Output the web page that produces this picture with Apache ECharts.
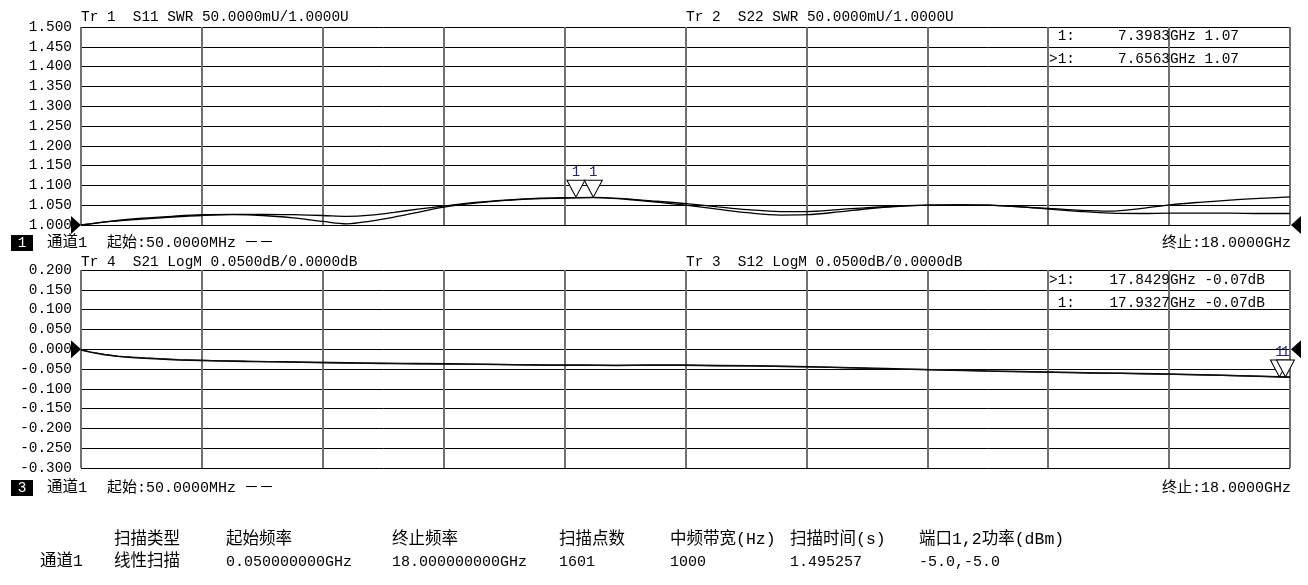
<!DOCTYPE html>
<html><head><meta charset="utf-8">
<script src="https://cdn.jsdelivr.net/npm/echarts@6/dist/echarts.min.js"></script>
<style>html,body{margin:0;padding:0;background:#fff}#c{width:1308px;height:585px}</style>
</head><body><div id="c"></div>
<script>
// ---- data (GHz / SWR / dB) ----
const freqTop = [0.05,0.5,0.96,1.4,1.85,2.3,2.75,3.2,3.64,4.0,4.35,4.7,5.05,5.44,5.9,6.35,6.8,7.24,7.65,8.14,8.6,9.03,9.5,9.94,10.43,10.83,11.3,11.73,12.2,12.63,13.1,13.53,14.0,14.42,14.9,15.33,15.8,16.22,16.7,17.11,17.55,18.0];
const s11Swr = [1.000,1.009,1.015,1.020,1.024,1.026,1.024,1.018,1.009,1.003,1.010,1.020,1.032,1.045,1.055,1.062,1.066,1.068,1.069,1.065,1.058,1.050,1.040,1.031,1.025,1.026,1.033,1.041,1.047,1.050,1.051,1.050,1.046,1.040,1.034,1.030,1.029,1.030,1.030,1.030,1.029,1.029];
const s22Swr = [1.000,1.010,1.017,1.022,1.026,1.027,1.027,1.026,1.024,1.022,1.025,1.032,1.040,1.048,1.057,1.063,1.067,1.069,1.070,1.066,1.060,1.054,1.046,1.039,1.034,1.034,1.039,1.044,1.048,1.050,1.051,1.050,1.046,1.042,1.037,1.035,1.042,1.051,1.058,1.063,1.067,1.071];
const freqBot = [0.05,0.2,0.4,0.6,0.8,1.0,1.5,2.0,2.5,3.0,3.5,4.0,4.5,5.0,5.5,6.0,6.5,7.0,7.5,8.0,8.5,9.0,9.5,10.0,10.5,11.0,11.5,12.0,12.5,13.0,13.5,14.0,14.5,15.0,15.5,16.0,16.5,17.0,17.5,18.0];
const s21LogM = [-0.002,-0.008,-0.014,-0.018,-0.021,-0.023,-0.027,-0.029,-0.031,-0.032,-0.033,-0.034,-0.036,-0.036,-0.037,-0.038,-0.039,-0.040,-0.040,-0.041,-0.040,-0.040,-0.041,-0.042,-0.043,-0.045,-0.047,-0.049,-0.051,-0.053,-0.055,-0.057,-0.058,-0.060,-0.061,-0.062,-0.064,-0.066,-0.068,-0.070];
const s12LogM = [-0.001,-0.007,-0.013,-0.018,-0.020,-0.022,-0.026,-0.029,-0.030,-0.032,-0.034,-0.035,-0.035,-0.037,-0.038,-0.038,-0.039,-0.041,-0.041,-0.041,-0.041,-0.041,-0.042,-0.042,-0.044,-0.045,-0.047,-0.050,-0.051,-0.053,-0.055,-0.056,-0.058,-0.059,-0.061,-0.063,-0.064,-0.066,-0.068,-0.071];
const markerTopS11 = [7.3983, 1.07];
const markerTopS22 = [7.6563, 1.07];
const markerBotS21 = [17.8429, -0.07];
const markerBotS12 = [17.9327, -0.07];
const freqStart = 0.05, freqStop = 18.0;
const topRefValue = 1.0, botRefValue = 0.0;
const headerTop = ['Tr 1  S11 SWR 50.0000mU/1.0000U', 'Tr 2  S22 SWR 50.0000mU/1.0000U'];
const headerBot = ['Tr 4  S21 LogM 0.0500dB/0.0000dB', 'Tr 3  S12 LogM 0.0500dB/0.0000dB'];
const markerTextTop = [' 1:     7.3983GHz 1.07', '>1:     7.6563GHz 1.07'];
const markerTextBot = ['>1:    17.8429GHz -0.07dB', ' 1:    17.9327GHz -0.07dB'];
const footHeads = ['扫描类型','起始频率','终止频率','扫描点数','中频带宽(Hz)','扫描时间(s)','端口1,2功率(dBm)'];
const footVals = ['线性扫描','0.050000000GHz','18.000000000GHz','1601','1000','1.495257','-5.0,-5.0'];

const MONO = '"Liberation Mono","Noto Sans CJK SC",monospace';
const zip = (xs, ys) => xs.map((x, i) => [x, ys[i]]);

const chart = echarts.init(document.getElementById('c'), null, {renderer: 'canvas'});

function markerPoint(coord) {
  return {
    coord: coord, symbol: 'triangle', symbolRotate: 180,
    symbolSize: [18, 17], symbolOffset: [0, '-50%'],
    itemStyle: {color: '#fff', borderColor: '#000', borderWidth: 1},
    label: {show: true, position: 'top', distance: 0, formatter: '1', color: '#22227a', fontFamily: MONO, fontSize: 14}
  };
}
function refPoints(y) {
  return [
    {coord: [freqStart, y], symbol: 'triangle', symbolRotate: -90, symbolSize: [18, 10], symbolOffset: [-5, 0], itemStyle: {color: '#000'}, label: {show: false}},
    {coord: [freqStop, y], symbol: 'triangle', symbolRotate: 90, symbolSize: [18, 10], symbolOffset: [6, 0], itemStyle: {color: '#000'}, label: {show: false}}
  ];
}
function divAxis(g) {
  return {gridIndex: g, type: 'value', min: 0, max: 10, interval: 1, position: 'top',
    axisLine: {show: false}, axisTick: {show: false}, axisLabel: {show: false},
    splitLine: {show: true, lineStyle: {color: '#707070', width: 2}}};
}
function dataAxis(g) {
  return {gridIndex: g, type: 'value', min: freqStart, max: freqStop, show: false};
}
function yAx(g, mn, mx) {
  return {gridIndex: g, type: 'value', min: mn, max: mx, interval: 0.05,
    axisLine: {show: false}, axisTick: {show: false},
    axisLabel: {formatter: v => v.toFixed(3), fontFamily: MONO, fontSize: 14.4, color: '#000', margin: 9},
    splitLine: {show: true, lineStyle: {color: '#000', width: 1}}};
}
function txt(x, y, s, opt) {
  opt = opt || {};
  return {type: 'text', x: x, y: y, z: 100, style: Object.assign({text: s, font: (opt.size || 14.4) + 'px ' + MONO, fill: opt.fill || '#000',
    textAlign: opt.align || 'left', align: opt.align || 'left', textVerticalAlign: 'middle', verticalAlign: 'middle'})};
}
const lineStyle = {color: '#000', width: 1.3};

const graphics = [
  txt(81, 17, headerTop[0]), txt(686, 17, headerTop[1]),
  txt(1049, 36, markerTextTop[0]), txt(1049, 59, markerTextTop[1]),
  txt(81, 262, headerBot[0]), txt(686, 262, headerBot[1]),
  txt(1049, 280, markerTextBot[0]), txt(1049, 303, markerTextBot[1]),
  {type: 'rect', shape: {x: 11, y: 235, width: 22, height: 16}, style: {fill: '#000'}},
  txt(22, 243, '1', {fill: '#fff', align: 'center'}),
  txt(47, 243, '通道1', {size: 15.5}), txt(107, 243, '起始:50.0000MHz', {size: 15}), txt(244, 243, '－－', {size: 15}),
  txt(1291, 243, '终止:18.0000GHz', {align: 'right', size: 15}),
  {type: 'rect', shape: {x: 11, y: 480, width: 22, height: 16}, style: {fill: '#000'}},
  txt(22, 488, '3', {fill: '#fff', align: 'center'}),
  txt(47, 488, '通道1', {size: 15.5}), txt(107, 488, '起始:50.0000MHz', {size: 15}), txt(244, 488, '－－', {size: 15}),
  txt(1291, 488, '终止:18.0000GHz', {align: 'right', size: 15})
];
const headX = [114, 226, 392, 559, 670, 790, 919];
footHeads.forEach((h, i) => graphics.push(txt(headX[i], 540, h, {size: 16.5})));
graphics.push(txt(40, 562, '通道1', {size: 16.5}));
footVals.forEach((v, i) => graphics.push(txt(headX[i], 562, v, {size: i === 0 ? 16.5 : 15})));

chart.setOption({
  animation: false,
  backgroundColor: '#fff',
  grid: [
    {left: 81, top: 27, width: 1209, height: 198},
    {left: 81, top: 270, width: 1209, height: 198}
  ],
  xAxis: [dataAxis(0), divAxis(0), dataAxis(1), divAxis(1)],
  yAxis: [yAx(0, 1.0, 1.5), yAx(1, -0.3, 0.2)],
  series: [
    {name: 'S11', type: 'line', xAxisIndex: 0, yAxisIndex: 0, data: zip(freqTop, s11Swr), symbol: 'none', smooth: 0.35, lineStyle: lineStyle,
      markPoint: {data: [markerPoint(markerTopS11)].concat(refPoints(topRefValue))}},
    {name: 'S22', type: 'line', xAxisIndex: 0, yAxisIndex: 0, data: zip(freqTop, s22Swr), symbol: 'none', smooth: 0.35, lineStyle: lineStyle,
      markPoint: {data: [markerPoint(markerTopS22)]}},
    {name: 'S21', type: 'line', xAxisIndex: 2, yAxisIndex: 1, data: zip(freqBot, s21LogM), symbol: 'none', lineStyle: {color: '#000', width: 1.5},
      markPoint: {data: [markerPoint(markerBotS21)].concat(refPoints(botRefValue))}},
    {name: 'S12', type: 'line', xAxisIndex: 2, yAxisIndex: 1, data: zip(freqBot, s12LogM), symbol: 'none', lineStyle: {color: '#111', width: 1.2},
      markPoint: {data: [markerPoint(markerBotS12)]}}
  ],
  graphic: graphics
});
</script></body></html>
